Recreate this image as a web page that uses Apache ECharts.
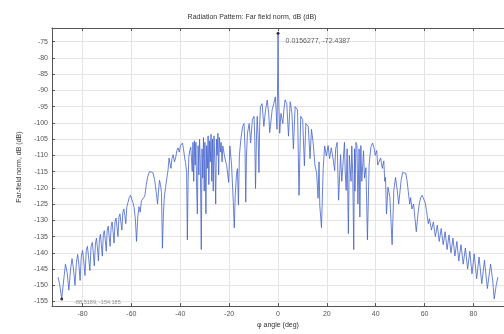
<!DOCTYPE html>
<html style="height: 100%">
   <head>
       <meta charset="utf-8">
   </head>
   <body style="height: 100%; margin: 0; background: #fff">
       <div id="container" style="width: 504px; height: 334px"></div>
       <script type="text/javascript" src="https://cdn.jsdelivr.net/npm/echarts@6/dist/echarts.min.js"></script>
       <script type="text/javascript">
// far-field pattern: [phi (deg), norm (dB)]
var farField = [
    [-90.0, -147.5], [-89.3, -150], [-88.5189, -154.185], [-87.8, -149], [-87.0, -143.5], [-86.3, -146],
    [-85.6, -151.5], [-84.9, -145], [-84.3, -141.8], [-83.7, -145], [-83.1, -150], [-82.5, -143],
    [-82.0, -140.5], [-81.5, -143.5], [-81.0, -148.5], [-80.5, -141], [-80.0, -139.3], [-79.5, -142.5],
    [-79.0, -147], [-78.5, -139.5], [-78.0, -138], [-77.5, -141.5], [-77.0, -145.5], [-76.5, -138],
    [-76.0, -136.8], [-75.6, -140], [-75.2, -144], [-74.7, -137], [-74.3, -135.5], [-73.9, -138.5],
    [-73.5, -142.5], [-73.1, -136], [-72.7, -134.3], [-72.3, -137.5], [-71.9, -141], [-71.5, -134.5],
    [-71.1, -133.2], [-70.7, -136], [-70.3, -139.5], [-69.9, -133], [-69.5, -131.8], [-69.1, -135],
    [-68.7, -138], [-68.3, -132], [-67.9, -130.5], [-67.5, -133.5], [-67.1, -137], [-66.7, -130.5],
    [-66.3, -129.3], [-65.9, -132], [-65.5, -135], [-65.1, -129], [-64.7, -128], [-64.3, -130.5],
    [-63.9, -133], [-63.5, -127.5], [-63.1, -126.5], [-62.7, -128.5], [-62.3, -131], [-61.9, -126],
    [-61.4, -124.5], [-60.9, -123], [-60.4, -122.3], [-59.9, -122.8], [-59.4, -124.5], [-58.9, -126],
    [-58.4, -129.5], [-57.9, -136.5], [-57.4, -129], [-56.9, -125.8], [-56.4, -127.5], [-55.9, -124],
    [-55.2, -124], [-54.5, -122.5], [-53.9, -119], [-53.3, -116.5], [-52.6, -115], [-51.9, -114.6],
    [-51.2, -115.3], [-50.5, -117.5], [-49.9, -121], [-49.3, -125], [-48.9, -121], [-48.5, -117.7],
    [-48.1, -119], [-47.7, -121.5], [-47.3, -138.6], [-46.9, -128], [-46.5, -122.5], [-46.0, -119.8],
    [-45.5, -117], [-45.0, -114.5], [-44.6, -110.8], [-44.2, -112.5], [-43.8, -114], [-43.4, -111],
    [-42.9, -109.8], [-42.4, -112], [-41.9, -110.8], [-41.4, -108.5], [-40.9, -107.7], [-40.4, -109],
    [-39.9, -107], [-39.5, -106.5], [-39.1, -106.2], [-38.7, -108], [-38.2, -110.8], [-37.8, -112.5],
    [-37.4, -115], [-37.1, -136], [-36.8, -118], [-36.5, -110.5], [-36.1, -108.5], [-35.7, -107.5],
    [-35.4, -107], [-35.1, -115], [-34.8, -106], [-34.5, -118], [-34.2, -105.5], [-33.9, -113],
    [-33.6, -106], [-33.3, -120], [-33.0, -128], [-32.7, -107], [-32.4, -116], [-32.1, -105],
    [-31.8, -112], [-31.4, -139], [-31.1, -108], [-30.8, -117], [-30.5, -104.5], [-30.2, -121],
    [-29.9, -106], [-29.5, -128], [-29.2, -107], [-28.9, -114], [-28.6, -104], [-28.3, -119],
    [-28.0, -105.5], [-27.7, -112], [-27.4, -103.5], [-27.1, -118], [-26.8, -105], [-26.5, -121],
    [-26.2, -104], [-25.8, -113], [-25.5, -125], [-25.2, -105], [-24.9, -110], [-24.6, -103.2],
    [-24.3, -116], [-24.0, -104.5], [-23.6, -109], [-23.3, -106], [-22.9, -112], [-22.6, -107.1],
    [-21.9, -110.2], [-21.0, -113.2], [-20.2, -118.3], [-19.7, -107.1], [-19.0, -113], [-18.3, -124.4],
    [-17.9, -132.3], [-17.5, -122.3], [-17.0, -116], [-16.6, -114.1], [-16.2, -125.3], [-15.8, -110],
    [-15.2, -105], [-14.5, -101.1], [-13.9, -100.2], [-13.5, -108], [-13.2, -124.4], [-12.9, -110],
    [-12.5, -103.2], [-11.8, -100.2], [-11.2, -106.2], [-10.5, -99], [-9.8, -98], [-9.5, -105],
    [-9.2, -120.2], [-8.8, -104], [-8.5, -98], [-8.1, -105], [-7.8, -115.3], [-7.5, -101],
    [-7.2, -95], [-6.5, -94.1], [-5.8, -101.1], [-5.1, -96], [-4.4, -93], [-3.8, -97.1],
    [-3.4, -103], [-3.1, -101.1], [-2.4, -96], [-1.7, -94], [-1.1, -92], [-0.7, -97],
    [-0.4, -102], [-0.2, -90], [0.0156277, -72.4387], [0.2, -90], [0.3, -92.6], [0.7, -103.2],
    [1.2, -97.1], [2.0, -100.2], [2.4, -96], [2.9, -92.9], [3.6, -94.1], [4.3, -104.1],
    [5.0, -93.5], [5.7, -97], [6.3, -108], [7.0, -95], [8.0, -96], [8.6, -122.3],
    [9.3, -98], [10.1, -99], [10.8, -113.2], [11.4, -100.2], [12.4, -101.1], [13.1, -111],
    [13.7, -102], [14.4, -106.2], [15.1, -113], [15.8, -115.3], [16.4, -123.2], [16.8, -112],
    [17.1, -125.3], [17.8, -132.3], [18.5, -114], [19.1, -107.1], [19.8, -110.2], [20.5, -107],
    [21.1, -111], [21.8, -107.7], [22.5, -110.8], [23.2, -114.7], [23.6, -108], [24.2, -106],
    [24.8, -123.8], [25.6, -109.8], [26.1, -118], [26.5, -113.8], [27.2, -106], [27.5, -115],
    [27.9, -120.8], [28.3, -108], [28.8, -134.1], [29.2, -110], [29.6, -109.8], [29.9, -118],
    [30.2, -107.1], [30.6, -116], [31.0, -139], [31.3, -108], [31.5, -121], [31.9, -106],
    [32.3, -106.8], [32.7, -125], [33.2, -108], [33.5, -129], [33.9, -107], [34.3, -118],
    [35.0, -108.6], [35.4, -117], [36.0, -113.8], [36.6, -136], [37.3, -112.9], [38.0, -107.5],
    [38.7, -106.2], [39.3, -107.7], [39.8, -110], [40.4, -108.5], [40.8, -113], [41.3, -112.9],
    [42.0, -110.8], [42.7, -114], [43.3, -111.7], [43.7, -118], [44.0, -116.8], [44.4, -128],
    [45.0, -119.8], [45.8, -123], [46.7, -137.5], [47.4, -120.8], [48.1, -116.8], [48.8, -120.8],
    [49.4, -125], [50.4, -117.7], [51.0, -115.3], [51.7, -114.7], [52.3, -115.5], [52.8, -117.7],
    [53.3, -121], [53.9, -125], [54.3, -123], [54.8, -126.5], [55.5, -125], [56.0, -129],
    [56.6, -133.5], [57.3, -128], [57.8, -125], [58.4, -123], [59.0, -122.3], [59.6, -122.8],
    [60.2, -124.5], [60.8, -127], [61.5, -131], [62.0, -129.5], [62.8, -133], [63.6, -130.5],
    [64.4, -135], [65.2, -131.5], [66.0, -136.5], [66.8, -132.5], [67.6, -137.5], [68.4, -133.5],
    [69.2, -139], [70.0, -134.5], [70.8, -140], [71.6, -135.5], [72.4, -141], [73.2, -136.5],
    [74.0, -142.5], [74.9, -137.5], [75.8, -143.5], [76.7, -138.5], [77.6, -145], [78.5, -139.5],
    [79.4, -146.5], [80.3, -140.3], [81.3, -148], [82.3, -141.3], [83.4, -149.5], [84.5, -142.3],
    [85.7, -151], [87.0, -143.5], [87.8, -148], [88.5, -154.2], [89.3, -150], [90.0, -147.5]
];
// the two marked points of the plot
var peakPoint = [0.0156277, -72.4387];
var minPoint = [-88.5189, -154.185];

var phiRange = [-92.5, 92.5];
var dbRange = [-156.4, -70.8];

var fontName = 'Liberation Sans';
var frameColor = '#555';
var gridColor = '#e4e4e4';

var dom = document.getElementById("container");
var myChart = echarts.init(dom, null, { renderer: 'canvas' });

function pointLabel(p) {
    return p.value[0] + ', ' + p.value[1];
}

var option = {
    animation: false,
    backgroundColor: '#fff',
    textStyle: { fontFamily: fontName },
    title: {
        text: 'Radiation Pattern: Far field norm, dB (dB)',
        left: 'center',
        top: 9,
        textStyle: { fontSize: 7, fontWeight: 'normal', color: '#333', fontFamily: fontName }
    },
    grid: {
        left: 52,
        top: 28,
        width: 458,
        bottom: 23
    },
    xAxis: [{
        type: 'value',
        position: 'bottom',
        min: phiRange[0],
        max: phiRange[1],
        splitNumber: 9,
        name: 'φ angle (deg)',
        nameLocation: 'middle',
        nameGap: 15,
        nameTextStyle: { fontSize: 7, color: '#333', fontFamily: fontName },
        axisLine: { onZero: false, lineStyle: { color: frameColor, width: 1 } },
        axisTick: { inside: true, length: 3, lineStyle: { color: frameColor } },
        axisLabel: { fontSize: 7, color: '#555', margin: 4, showMinLabel: false, showMaxLabel: false },
        splitLine: { lineStyle: { color: gridColor, width: 1 } }
    }, {
        type: 'value',
        position: 'top',
        min: phiRange[0],
        max: phiRange[1],
        splitNumber: 9,
        axisLine: { onZero: false, lineStyle: { color: frameColor, width: 1 } },
        axisTick: { inside: true, length: 3, lineStyle: { color: frameColor } },
        axisLabel: { show: false },
        splitLine: { show: false }
    }],
    yAxis: [{
        type: 'value',
        position: 'left',
        min: dbRange[0],
        max: dbRange[1],
        splitNumber: 17,
        minInterval: 5,
        maxInterval: 5,
        name: 'Far-field norm, dB (dB)',
        nameLocation: 'middle',
        nameRotate: 90,
        nameGap: 29,
        nameTextStyle: { fontSize: 7, color: '#333', fontFamily: fontName },
        axisLine: { show: true, onZero: false, lineStyle: { color: frameColor, width: 1 } },
        axisTick: { show: true, inside: true, length: 3, lineStyle: { color: frameColor } },
        axisLabel: { fontSize: 7, color: '#555', margin: 4, showMinLabel: false, showMaxLabel: false },
        splitLine: { lineStyle: { color: gridColor, width: 1 } }
    }],
    series: [{
        type: 'line',
        name: 'Far field',
        data: farField,
        showSymbol: false,
        symbol: 'none',
        lineStyle: { color: '#4462cc', width: 0.8 },
        z: 2
    }, {
        type: 'scatter',
        data: [peakPoint],
        symbolSize: 3,
        itemStyle: { color: '#111' },
        label: {
            show: true,
            position: 'right',
            offset: [1, 8],
            formatter: pointLabel,
            fontSize: 7,
            color: '#333'
        },
        z: 3
    }, {
        type: 'scatter',
        data: [minPoint],
        symbolSize: 3,
        itemStyle: { color: '#111' },
        label: {
            show: true,
            position: 'right',
            offset: [6, 4],
            formatter: pointLabel,
            fontSize: 5.5,
            color: '#777'
        },
        z: 3
    }]
};

myChart.setOption(option, true);
       </script>
   </body>
</html>
